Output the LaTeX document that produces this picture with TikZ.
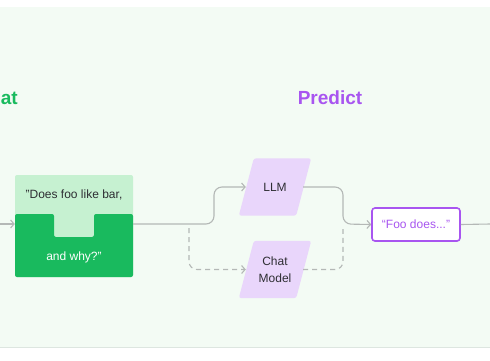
\documentclass[tikz,border=0pt]{standalone}
\usepackage{fontspec}
\setmainfont{Liberation Sans}
\usetikzlibrary{arrows.meta,backgrounds,calc}
\definecolor{bg}{HTML}{F3FBF4}
\definecolor{edgeline}{HTML}{DDE6E0}
\definecolor{darkgreen}{HTML}{19BA5E}
\definecolor{lightgreen}{HTML}{C6F1D1}
\definecolor{purplefill}{HTML}{E9D6FB}
\definecolor{purpleT}{HTML}{A855F0}
\definecolor{linegray}{HTML}{B4B8B6}
\definecolor{textdark}{HTML}{2E2E33}
\begin{document}
\begin{tikzpicture}[x=1pt,y=-1pt,
  conn/.style={draw=linegray, line width=1.1pt, rounded corners=8pt},
  tip/.style={-{Straight Barb[length=3.5pt,width=8pt]}},
  dashline/.style={dash pattern=on 5pt off 4pt},
  para/.style={minimum width=72pt, minimum height=57pt, inner sep=0pt,
    font=\fontsize{12}{17.5}\selectfont, text=textdark, align=center},
  qtext/.style={inner sep=0pt, font=\fontsize{12}{14}\selectfont},
  title/.style={inner sep=0pt, font=\bfseries\fontsize{19}{22}\selectfont},
]
\useasboundingbox (0,0) rectangle (490,360);

% titles
\node[title, text=darkgreen, anchor=west] (ct) at (0.6,98) {at};
\node[title, text=purpleT] (pt) at (330,98) {Predict};

% question box
\node[inner sep=0pt, minimum width=118pt, minimum height=102pt,
      fill=lightgreen, rounded corners=2pt] (q) at (74,226) {};
\fill[darkgreen, rounded corners=2pt]
  (15,214) -- (54,214) -- (54,237) -- (94,237) -- (94,214) -- (133,214)
  -- (133,277) -- (15,277) -- cycle;
\node[qtext, text=textdark] (q1) at (74,195) {"Does foo like bar,};
\node[qtext, text=white] (q2) at (74,257) {and why?"};

% models
\node[para] (llm) at (275,187) {LLM};
\node[para] (chat) at (275,269.5) {Chat\\Model};
\begin{scope}[on background layer]
  \fill[white] (0,0) rectangle (490,360);
  \fill[bg] (0,7) rectangle (490,347);
  \draw[edgeline, line width=0.8pt] (0,347) -- (490,347);
  \foreach \n in {llm,chat}{
    \fill[purplefill, rounded corners=2.5pt]
      (\n.south west) -- ([xshift=15pt]\n.north west) -- (\n.north east)
      -- ([xshift=-15pt]\n.south east) -- cycle;
  }
\end{scope}

% output
\node[draw=purpleT, line width=1.6pt, rounded corners=3pt, fill=white,
      minimum width=88pt, minimum height=33pt, inner sep=0pt,
      text=purpleT, font=\fontsize{12}{14}\selectfont] (out) at (416,224.5) {“Foo does...”};

% connectors
\coordinate (in) at (0,224);
\coordinate (s) at (189,224);
\coordinate (j) at (343,224);
\coordinate (end) at (490,224);
\draw[conn, tip] (in) -- (in -| q.west);
\draw[conn, tip] (q.east |- s) -- (214,224) -- (214,187) -- ([xshift=7pt]llm.west);
\draw[conn, dashline, tip] (189,228) -- (189,269.5) -- ([xshift=7pt]chat.west);
\draw[conn, tip] ([xshift=-8pt]llm.east) -- (343,187) -- (343,224) -- (out.west);
\draw[conn, dashline] ([xshift=-8pt]chat.east) -- (343,269.5) -- (343,229);
\draw[conn] (out.east) -- (end);
\end{tikzpicture}
\end{document}
